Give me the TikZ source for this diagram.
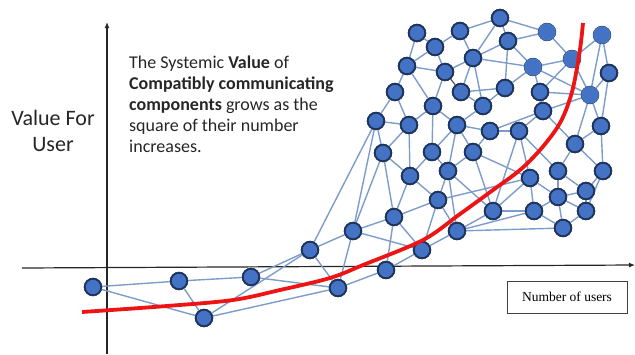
\documentclass[tikz,border=0pt]{standalone}
\usepackage{fontspec}
\setmainfont{Carlito}
\newfontfamily\timesf{Liberation Serif}
\usetikzlibrary{arrows.meta}
\definecolor{edgeblue}{RGB}{124,156,204}
\definecolor{nodefill}{RGB}{68,114,196}
\definecolor{nodeline}{RGB}{30,52,92}
\definecolor{nodelight}{RGB}{75,120,196}
\definecolor{curvered}{RGB}{238,20,20}
\tikzset{
  dot/.style={circle, fill=nodefill, draw=nodeline, line width=1.8pt, minimum size=16.5pt, inner sep=0pt},
  ldot/.style={dot, draw=nodelight, line width=1pt},
  link/.style={draw=edgeblue, line width=1.4pt},
  darklink/.style={draw=black!70, line width=1.1pt},
  axis/.style={draw=black!85, line width=1.2pt},
}
\begin{document}
\begin{tikzpicture}[x=1pt,y=-1pt]
\useasboundingbox (0,0) rectangle (635,354);
% axes
\coordinate (xa0) at (22,268);
\coordinate (xa1) at (635,265);
\coordinate (ya0) at (107,354);
\coordinate (ya1) at (107,22);
\draw[axis,-{Latex[length=6pt,width=5pt]}] (xa0) -- (xa1);
\draw[axis,-{Latex[length=6pt,width=5pt]}] (ya0) -- (ya1);
% texts
\node[font=\fontsize{22}{26}\selectfont, align=center, text=black!85] (ylab) at (53,131) {Value For\\User};
\node[font=\fontsize{18}{22}\selectfont, align=left, anchor=base west, inner sep=0pt, text=black!85] (desc) at (129,68)
 {\begin{tabular}[t]{@{}l@{}}The Systemic \textbf{Value} of\\[-0.8pt]
 \textbf{Compatibly communicating}\\[-0.8pt]
 \textbf{components} grows as the\\[-0.8pt]
 square of their number\\[-0.8pt]
 increases.\end{tabular}};
\node[draw=black!75, line width=1pt, minimum width=120pt, minimum height=32pt, font=\timesf\fontsize{13.5}{15}\selectfont] (xlab) at (567,297) {Number of users};
% nodes
\begin{scope}[every node/.append style={dot}]
\node (n1) at (93,287) {};
\node (n2) at (179,281) {};
\node (n3) at (251,277) {};
\node (n4) at (204,318) {};
\node (n5) at (310,250) {};
\node (n6) at (338,288) {};
\node (n7) at (353,231) {};
\node (n8) at (386,270) {};
\node (n9) at (394,217) {};
\node (n10) at (422,250) {};
\node (n11) at (438,200) {};
\node (n12) at (457,231) {};
\node (n13) at (493,211) {};
\node (n14) at (534,211) {};
\node (n15) at (563,228) {};
\node (n16) at (586,211) {};
\node (n17) at (558,197) {};
\node (n18) at (586,191) {};
\node (n19) at (530,178) {};
\node (n20) at (558,171) {};
\node (n21) at (603,171) {};
\node (n22) at (575,144) {};
\node (n23) at (601,126) {};
\node (n24) at (410,176) {};
\node (n25) at (448,171) {};
\node (n26) at (383,153) {};
\node (n27) at (432,152) {};
\node (n28) at (473,152) {};
\node (n29) at (376,121) {};
\node (n30) at (409,125) {};
\node (n31) at (457,125) {};
\node (n32) at (490,131) {};
\node (n33) at (519,131) {};
\node (n34) at (543,111) {};
\node (n35) at (433,106) {};
\node (n36) at (483,106) {};
\node (n37) at (395,92) {};
\node (n38) at (461,92) {};
\node (n39) at (505,88) {};
\node (n40) at (540,92) {};
\node[ldot] (n41) at (590,95) {};
\node (n42) at (407,66) {};
\node (n43) at (445,72) {};
\node (n44) at (473,58) {};
\node[ldot] (n45) at (533,67) {};
\node[ldot] (n46) at (572,59) {};
\node (n47) at (609,73) {};
\node (n48) at (417,33) {};
\node (n49) at (435,47) {};
\node (n50) at (460,31) {};
\node (n51) at (500,18) {};
\node (n52) at (508,41) {};
\node[ldot] (n53) at (547,32) {};
\node[ldot] (n54) at (602,35) {};
\end{scope}
% edges
\foreach \a/\b in {
 1/2,1/4,2/3,2/4,3/5,3/6,4/5,4/6,5/6,5/7,5/29,6/8,6/7,7/9,7/10,7/26,7/29,
 8/9,8/10,9/10,9/11,9/24,9/26,10/11,10/12,11/12,11/24,11/25,11/19,
 12/13,12/14,12/15,12/25,13/14,13/19,13/25,13/28,13/33,14/15,14/17,14/19,
 15/16,15/17,16/17,16/18,16/21,17/18,17/19,17/20,18/20,18/21,19/33,19/28,
 20/22,20/33,21/22,21/23,22/23,22/34,22/41,23/41,23/47,24/26,24/27,24/30,
 25/27,25/28,25/31,26/29,26/30,27/31,27/35,28/31,28/32,29/30,29/37,30/35,
 30/37,31/32,31/35,31/36,32/33,32/34,33/34,34/40,34/41,35/42,35/43,36/38,
 36/44,36/39,37/42,38/44,38/39,39/45,39/52,40/45,40/46,40/41,41/45,41/46,
 41/47,41/54,42/43,42/48,42/49,43/44,43/49,44/45,44/50,44/51,44/52,45/46,
 45/52,46/53,46/54,47/54,48/49,49/50,50/51,51/52,51/53,52/53}
 {\path[link] (n\a) -- (n\b);}
\path[darklink] (n43) -- (n38);
% redraw nodes on top of edges
\foreach \n in {1,...,54} {\path (n\n.center) node[dot] {};}
\foreach \n in {41,45,46,53,54} {\path (n\n.center) node[ldot] {};}
% red curve
\draw[curvered, line width=3.8pt, line cap=butt] plot[smooth, tension=0.55] coordinates {
 (82,312) (167,306) (233,300) (280,290) (330,278) (363,265) (423,240) (460,214)
 (493,190) (520,170) (540,150) (557,128) (566,110) (573,88) (578,62) (581,42) (583,23)};
\end{tikzpicture}
\end{document}
